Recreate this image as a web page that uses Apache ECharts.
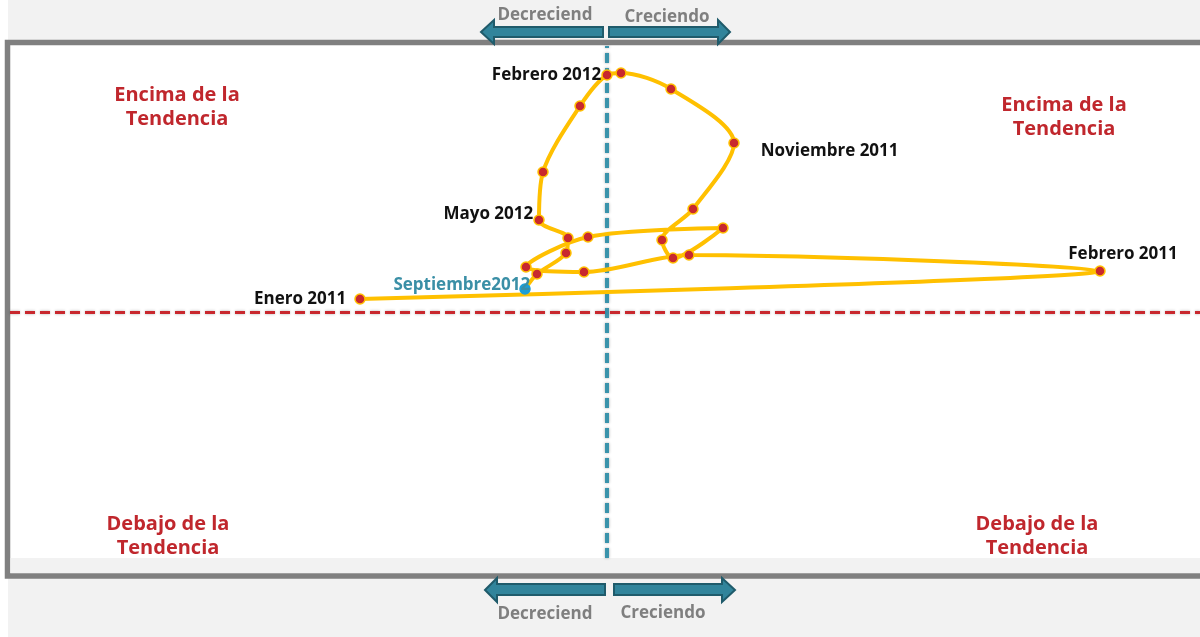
<!DOCTYPE html>
<html>
<head>
<meta charset="utf-8">
<title>Ciclo</title>
<script src="https://cdn.jsdelivr.net/npm/echarts@6/dist/echarts.min.js"></script>
<style>
  html, body { margin: 0; padding: 0; }
  #chart { width: 1200px; height: 637px; }
</style>
</head>
<body>
<div id="chart"></div>
<script>
// meses, de Enero 2011 a Septiembre 2012
const months = ['Enero 2011', 'Febrero 2011', 'Marzo 2011', 'Abril 2011', 'Mayo 2011', 'Junio 2011',
  'Julio 2011', 'Agosto 2011', 'Septiembre 2011', 'Octubre 2011', 'Noviembre 2011', 'Diciembre 2011',
  'Enero 2012', 'Febrero 2012', 'Marzo 2012', 'Abril 2012', 'Mayo 2012', 'Junio 2012',
  'Julio 2012', 'Agosto 2012', 'Septiembre2012']
// variacion (eje x) y nivel respecto a la tendencia (eje y)
const growth = [-2.47, 4.93, 0.82, -0.23, -0.81, -0.19, 1.16, 0.66, 0.55, 0.86, 1.27, 0.64,
  0.14, 0.00, -0.27, -0.64, -0.68, -0.39, -0.41, -0.70, -0.82]
const level = [100.13, 100.41, 100.57, 100.40, 100.45, 100.75, 100.84, 100.54, 100.72, 101.03, 101.69, 102.23,
  102.39, 102.37, 102.06, 101.40, 100.92, 100.74, 100.59, 100.38, 100.23]
const trendLevel = 100
const zeroGrowth = 0
const quadrantLabels = ['Encima de la\nTendencia', 'Encima de la\nTendencia', 'Debajo de la\nTendencia', 'Debajo de la\nTendencia']
const arrowLabels = ['Decreciend', 'Creciendo']

const FONT = '"Open Sans", Lato, sans-serif'
const labelBase = { show: true, color: '#111', fontFamily: FONT, fontWeight: 'bold', fontSize: 17 }
// etiquetas visibles
const labelStyle = {
  'Enero 2011': { position: 'left', distance: 8 },
  'Febrero 2011': { position: 'top', distance: 3, offset: [23, 0] },
  'Noviembre 2011': { position: 'right', distance: 21, offset: [0, 8] },
  'Febrero 2012': { position: 'left', distance: 0 },
  'Mayo 2012': { position: 'left', distance: 0, offset: [0, -6] },
  'Septiembre2012': { position: 'left', distance: -11, offset: [0, -4], color: '#3A8FA6' }
}

const seriesData = months.map((m, i) => {
  const item = { name: m, value: [growth[i], level[i]] }
  if (labelStyle[m]) {
    item.label = Object.assign({}, labelBase, labelStyle[m], { formatter: m })
  }
  if (i === months.length - 1) {
    item.itemStyle = { color: '#1E9FD6', borderColor: '#1E9FD6' }
  }
  return item
})

const chart = echarts.init(document.getElementById('chart'))

const quadText = (txt, x, y) => ({
  type: 'text', z: 1, x: x, y: y,
  style: {
    text: txt, fill: '#C0272D', font: 'bold 20px ' + FONT,
    align: 'center', verticalAlign: 'top', lineHeight: 24
  }
})
const arrowText = (txt, x, y) => ({
  type: 'text', z: 1, x: x, y: y,
  style: { text: txt, fill: '#7F7F7F', font: 'bold 17px ' + FONT, align: 'center', verticalAlign: 'middle' }
})
const arrow = (pts) => ({
  type: 'polygon', z: 1,
  shape: { points: pts },
  style: { fill: '#31849B', stroke: '#1F5B6B', lineWidth: 2 }
})

const option = {
  backgroundColor: '#F2F2F2',
  animation: false,
  grid: { left: 10, right: 0, top: 46, bottom: 79 },
  xAxis: {
    type: 'value', min: -5.97, max: 5.93,
    axisLine: { show: false }, axisTick: { show: false }, axisLabel: { show: false }, splitLine: { show: false }
  },
  yAxis: {
    type: 'value', min: 97.54, max: 102.66,
    axisLine: { show: false }, axisTick: { show: false }, axisLabel: { show: false }, splitLine: { show: false }
  },
  graphic: [
    { type: 'rect', z: 0, shape: { x: 0, y: 0, width: 8, height: 637 }, style: { fill: '#fff' } },
    {
      type: 'rect', z: 0,
      shape: { x: 7.5, y: 42.5, width: 1210, height: 533.5 },
      style: { fill: '#fff', stroke: '#808080', lineWidth: 5.5 }
    },
    { type: 'rect', z: 0, shape: { x: 10.5, y: 558, width: 1195, height: 15 }, style: { fill: '#F2F2F2' } },
    quadText(quadrantLabels[0], 177, 83),
    quadText(quadrantLabels[1], 1064, 93),
    quadText(quadrantLabels[2], 168, 512),
    quadText(quadrantLabels[3], 1037, 512),
    arrow([[481, 32], [494, 20], [494, 27], [603, 27], [603, 37], [494, 37], [494, 44]]),
    arrow([[609, 27], [718, 27], [718, 20], [730, 32], [718, 44], [718, 37], [609, 37]]),
    arrow([[485, 590], [497, 578], [497, 584], [605, 584], [605, 595], [497, 595], [497, 602]]),
    arrow([[614, 584], [722, 584], [722, 578], [735, 590], [722, 602], [722, 595], [614, 595]]),
    arrowText(arrowLabels[0], 545, 15),
    arrowText(arrowLabels[1], 667, 17),
    arrowText(arrowLabels[0], 545, 614),
    arrowText(arrowLabels[1], 663, 613)
  ],
  series: [
    {
      type: 'line',
      data: seriesData,
      smooth: 0.3,
      symbol: 'circle',
      symbolSize: 10,
      lineStyle: { color: '#FFC000', width: 4 },
      itemStyle: { color: '#C8282E', borderColor: '#FFC000', borderWidth: 1.5 },
      z: 3,
      markLine: {
        silent: true,
        symbol: 'none',
        label: { show: false },
        z: 2,
        data: [
          {
            xAxis: zeroGrowth,
            lineStyle: {
              color: '#3A93AB', width: 4, type: [10, 5],
              shadowColor: 'rgba(0,0,0,0.35)', shadowBlur: 3
            }
          },
          {
            yAxis: trendLevel,
            lineStyle: {
              color: '#C8282E', width: 3, type: [10, 5],
              shadowColor: 'rgba(0,0,0,0.3)', shadowBlur: 3
            }
          }
        ]
      }
    }
  ]
}

chart.setOption(option)
</script>
</body>
</html>
